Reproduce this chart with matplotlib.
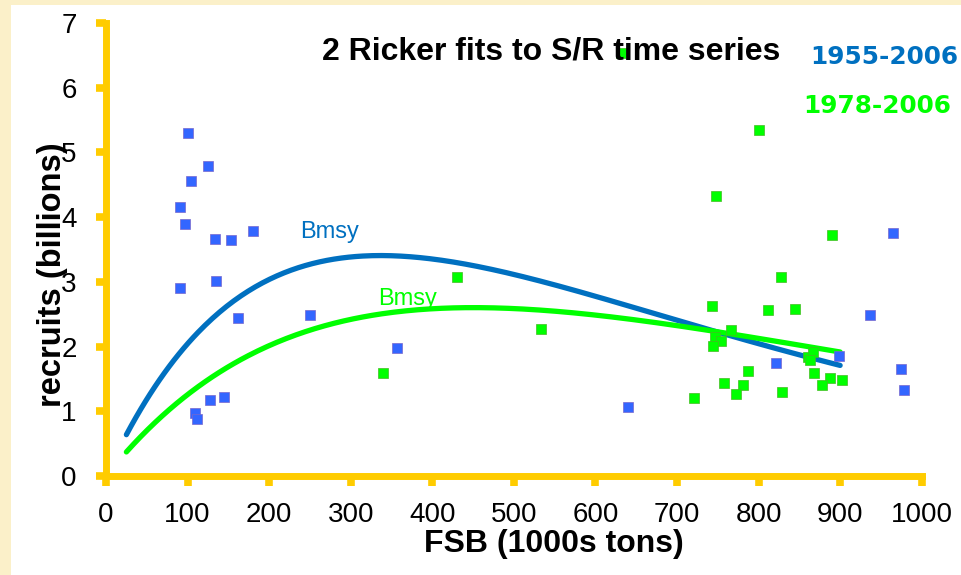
import numpy as np
import matplotlib.pyplot as plt
from matplotlib.patches import Rectangle

# Stock reproducteur (FSB, 1000s t) et recrues (milliards), période 1955-1977
fsb_bleu = [100.9, 125, 104.2, 90.3, 97.2, 133.6, 153.7, 180.6, 135.3, 91.1,
            161.4, 250.5, 357.2, 108.7, 112, 127.9, 144.3, 640.4, 821, 898.5,
            937, 974.5, 977.9, 964.4]
rec_bleu = [5.30, 4.79, 4.56, 4.15, 3.89, 3.66, 3.64, 3.79, 3.01, 2.90,
            2.44, 2.49, 1.98, 0.98, 0.88, 1.17, 1.22, 1.06, 1.75, 1.85,
            2.48, 1.65, 1.33, 3.75]

# Période 1978-2006
fsb_vert = [631.4, 801, 747.8, 890.5, 827.1, 533.3, 742.9, 811.1, 844.7, 766.2,
            746.6, 753.6, 744.5, 861, 866.3, 863, 786.6, 868.4, 887.6, 901.9,
            878.2, 757.6, 780.9, 772.3, 828.3, 720.5, 339.2, 429.9]
rec_vert = [6.53, 5.34, 4.33, 3.72, 3.07, 2.27, 2.63, 2.56, 2.58, 2.26,
            2.15, 2.08, 2.01, 1.84, 1.91, 1.79, 1.63, 1.59, 1.51, 1.49,
            1.40, 1.44, 1.40, 1.26, 1.30, 1.21, 1.59, 3.07]

# Paramètres des deux ajustements de Ricker R = a * S * exp(-b * S)
a_bleu, b_bleu = 0.0275, 0.00297
a_vert, b_vert = 0.0157, 0.00222
s_min, s_max = 25, 900

graduations_x = [0, 100, 200, 300, 400, 500, 600, 700, 800, 900, 1000]
graduations_y = [0, 1, 2, 3, 4, 5, 6, 7]

jaune = '#FFCC00'
bleu_ligne = '#0070C0'
bleu_point = '#3366FF'
vert = '#00FF00'

plt.rcParams['font.family'] = ['Liberation Sans', 'DejaVu Sans']

fig = plt.figure(figsize=(9.61, 5.75), dpi=100, facecolor='#FBF0C9')
fig.patches.append(Rectangle((11 / 961, 0), 1, 570 / 575, transform=fig.transFigure,
                             facecolor='white', edgecolor='none', zorder=-5))

ax = fig.add_axes([0.1103, 0.1722, 0.8488, 0.7878])
ax.set_facecolor('none')

# Courbes de Ricker
s = np.linspace(s_min, s_max, 300)
ax.plot(s, a_bleu * s * np.exp(-b_bleu * s), color=bleu_ligne, lw=3.8,
        solid_capstyle='round', zorder=2)
ax.plot(s, a_vert * s * np.exp(-b_vert * s), color=vert, lw=3.8,
        solid_capstyle='round', zorder=2)

# Points observés
ax.plot(fsb_bleu, rec_bleu, 's', color=bleu_point, ms=7, mec='#7766CC', mew=0.5,
        zorder=3, clip_on=False)
ax.plot(fsb_vert, rec_vert, 's', color=vert, ms=7, mec='#44BB22', mew=0.5,
        zorder=3, clip_on=False)

ax.text(238, 3.68, 'Bmsy', color=bleu_ligne, fontsize=17, va='baseline')
ax.text(334, 2.64, 'Bmsy', color=vert, fontsize=17, va='baseline')

ax.set_xlim(0, 1000)
ax.set_ylim(0, 7)
ax.set_xticks(graduations_x)
ax.set_yticks(graduations_y)
for cote in ['top', 'right']:
    ax.spines[cote].set_visible(False)
for cote in ['left', 'bottom']:
    ax.spines[cote].set_color(jaune)
    ax.spines[cote].set_linewidth(5)
ax.tick_params(direction='out', length=7, width=5.5, color=jaune, labelsize=20)
ax.tick_params(axis='x', pad=12)
ax.tick_params(axis='y', pad=14)

# Titres
fig.text(551 / 961, 1 - 59 / 575, '2 Ricker fits to S/R time series', fontsize=23,
         fontweight='bold', ha='center', va='baseline', zorder=5)
fig.text(810 / 961, 1 - 64 / 575, '1955-2006', color=bleu_ligne, fontsize=17.8,
         fontweight='bold', family='DejaVu Sans', ha='left', va='baseline')
fig.text(803 / 961, 1 - 113 / 575, '1978-2006', color=vert, fontsize=17.8,
         fontweight='bold', family='DejaVu Sans', ha='left', va='baseline')
fig.text(554 / 961, 1 - 552 / 575, 'FSB (1000s tons)', fontsize=23,
         fontweight='bold', ha='center', va='baseline')
fig.text(52 / 961, 1 - 275 / 575, 'recruits (billions)', fontsize=23.5,
         fontweight='bold', rotation=90, ha='center', va='center')

fig.savefig('out.png', dpi=100, facecolor=fig.get_facecolor())
